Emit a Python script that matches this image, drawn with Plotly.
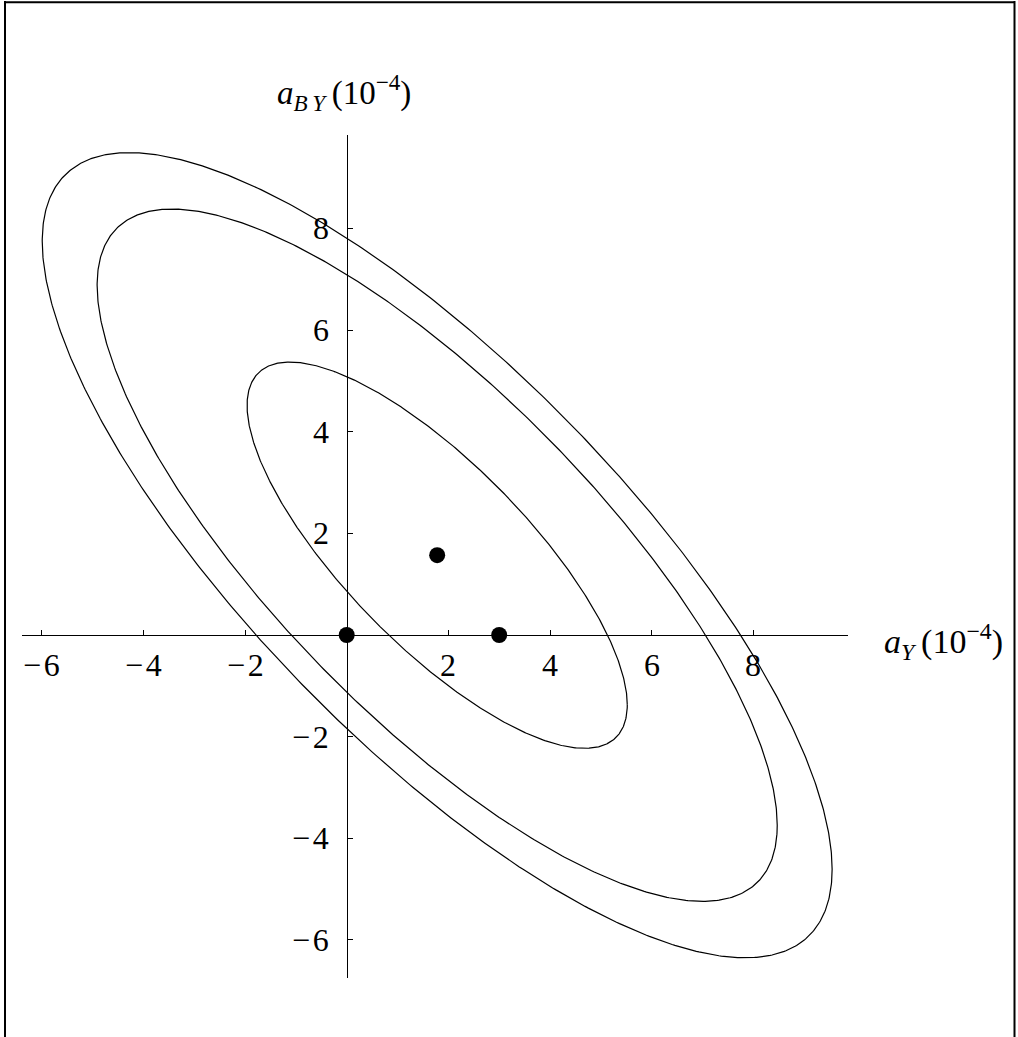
import numpy as np
import plotly.graph_objects as go

# ---- data (units of 1e-4) ----
center_x = 1.78
center_y = 1.57
semi_x = [3.74, 6.69, 7.77]      # half-width in a_Y of each contour
semi_y = [3.80, 6.81, 7.92]      # half-height in a_BY of each contour
corr = [-0.775, -0.78, -0.78]    # tilt/correlation of each contour

dots_x = [0.0, 1.78, 3.0]
dots_y = [0.0, 1.57, 0.0]

xtick_vals = [-6, -4, -2, 2, 4, 6, 8]
ytick_vals = [-6, -4, -2, 2, 4, 6, 8]

# ---- pixel geometry of the page ----
W, H = 1018, 1037
L, R, T, B = 22, 848, 135, 978      # plot box in pixels
X0PX, Y0PX, SCALE = 346.7, 635.0, 50.83

xr = [(L - X0PX) / SCALE, (R - X0PX) / SCALE]
yr = [(Y0PX - B) / SCALE, (Y0PX - T) / SCALE]


def pxx(p):
    return (p - L) / (R - L)


def pxy(p):
    return (B - p) / (B - T)


def lab(v):
    return ("−\u200a" + str(-v)) if v < 0 else str(v)


fig = go.Figure()

t = np.linspace(0, 2 * np.pi, 721)
for sx, sy, r in zip(semi_x, semi_y, corr):
    ex = center_x + sx * np.cos(t)
    ey = center_y + sy * (r * np.cos(t) + np.sqrt(1 - r * r) * np.sin(t))
    fig.add_trace(go.Scatter(x=ex, y=ey, mode="lines",
                             line=dict(color="black", width=1.2),
                             hoverinfo="skip", showlegend=False))

fig.add_trace(go.Scatter(x=dots_x, y=dots_y, mode="markers",
                         marker=dict(color="black", size=16),
                         hoverinfo="skip", showlegend=False))

FONT = "Liberation Serif"
FS = 32

fig.update_layout(
    width=W, height=H,
    margin=dict(l=L, r=W - R, t=T, b=H - B, autoexpand=False),
    paper_bgcolor="white", plot_bgcolor="white",
    showlegend=False,
    font=dict(family=FONT, size=FS, color="black"),
    xaxis=dict(range=xr, showgrid=False, zeroline=False, showline=True,
               linecolor="black", linewidth=1, ticks="inside", ticklen=5,
               tickcolor="black", tickwidth=1, tickvals=xtick_vals,
               showticklabels=False, anchor="free",
               position=pxy(Y0PX), fixedrange=True),
    yaxis=dict(range=yr, showgrid=False, zeroline=False, showline=True,
               linecolor="black", linewidth=1, ticks="inside", ticklen=5,
               tickcolor="black", tickwidth=1, tickvals=ytick_vals,
               showticklabels=False, anchor="free",
               position=pxx(X0PX), fixedrange=True),
)

ann = []
for v in xtick_vals:
    ann.append(dict(x=v, y=0, xref="x", yref="y", text=lab(v),
                    showarrow=False, xanchor="center", yanchor="top", yshift=-10,
                    font=dict(family=FONT, size=FS, color="black")))
for v in ytick_vals:
    ann.append(dict(x=0, y=v, xref="x", yref="y", text=lab(v),
                    showarrow=False, xanchor="right", yanchor="middle", xshift=-16,
                    font=dict(family=FONT, size=FS, color="black")))

ann.append(dict(x=pxx(344), y=pxy(93), xref="paper", yref="paper",
                text="<i>a</i><sub><i>B\u2009Y</i></sub>\u2009(10<sup>−4</sup>)",
                showarrow=False, xanchor="center", yanchor="middle",
                font=dict(family=FONT, size=FS + 1, color="black")))
ann.append(dict(x=pxx(943), y=pxy(641), xref="paper", yref="paper",
                text="<i>a</i><sub><i>Y</i></sub>\u2009(10<sup>−4</sup>)",
                showarrow=False, xanchor="center", yanchor="middle",
                font=dict(family=FONT, size=FS + 2, color="black")))
fig.update_layout(annotations=ann)

# outer frame (top, left, right edges)
frame = dict(xref="paper", yref="paper", line=dict(color="black", width=2))
fig.add_shape(type="line", x0=pxx(4), x1=pxx(1015), y0=pxy(2.3), y1=pxy(2.3), **frame)
fig.add_shape(type="line", x0=pxx(5), x1=pxx(5), y0=pxy(1), y1=pxy(1040), **frame)
fig.add_shape(type="line", x0=pxx(1014.5), x1=pxx(1014.5), y0=pxy(1), y1=pxy(1040), **frame)

fig.write_html("out.html", config={"displayModeBar": False, "staticPlot": True},
               post_script="document.body.style.margin='0px';document.body.style.overflow='hidden';")
